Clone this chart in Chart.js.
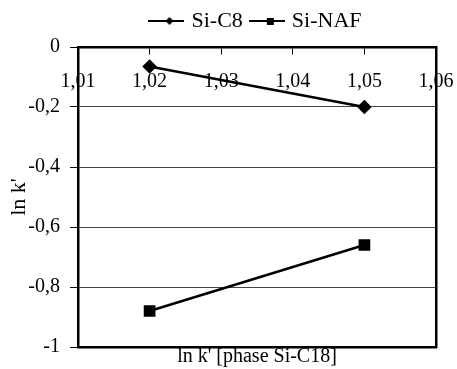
<!DOCTYPE html>
<html>
<head>
<meta charset="utf-8">
<script src="https://cdn.jsdelivr.net/npm/chart.js@4/dist/chart.umd.min.js"></script>
<style>
html,body{margin:0;padding:0;background:#fff;}
#wrap{width:457px;height:369px;}
</style>
</head>
<body>
<div id="wrap"><canvas id="c" width="457" height="369"></canvas></div>
<script>
// ---- data ----
const xValues = [1.02, 1.05];
const siC8 = [-0.065, -0.2];
const siNAF = [-0.88, -0.66];
const seriesNames = ['Si-C8', 'Si-NAF'];
const xTickValues = [1.01, 1.02, 1.03, 1.04, 1.05, 1.06];
const yTickValues = [0, -0.2, -0.4, -0.6, -0.8, -1];
const xTitle = "ln k' [phase Si-C18]";
const yTitle = "ln k'";

const FONT = "'Liberation Serif', 'Times New Roman', serif";

function legendIcon(kind) {
  const c = document.createElement('canvas');
  c.width = 36; c.height = 14;
  const g = c.getContext('2d');
  g.strokeStyle = '#000'; g.fillStyle = '#000'; g.lineWidth = 2;
  g.beginPath(); g.moveTo(0, 7); g.lineTo(36, 7); g.stroke();
  if (kind === 'diamond') {
    g.beginPath(); g.moveTo(21, 3); g.lineTo(25, 7); g.lineTo(21, 11); g.lineTo(17, 7); g.closePath(); g.fill();
  } else {
    g.fillRect(18, 4, 7, 7);
  }
  return c;
}
const icons = [legendIcon('diamond'), legendIcon('square')];

const toPts = ys => xValues.map((x, i) => ({x: x, y: ys[i]}));
const fmt = v => {
  const r = Math.round(v * 100) / 100;
  return String(r).replace('.', ',');
};

new Chart(document.getElementById('c'), {
  type: 'line',
  data: {
    datasets: [
      {label: seriesNames[0], data: toPts(siC8), borderColor: '#000', backgroundColor: '#000',
       borderWidth: 2.5, pointStyle: 'rectRot', pointRadius: 5.5, pointHoverRadius: 5.5, xAxisID: 'x', yAxisID: 'y'},
      {label: seriesNames[1], data: toPts(siNAF), borderColor: '#000', backgroundColor: '#000',
       borderWidth: 2.5, pointStyle: 'rect', pointRadius: 6.5, pointHoverRadius: 6.5, xAxisID: 'x', yAxisID: 'y'}
    ]
  },
  options: {
    responsive: false,
    animation: false,
    layout: {padding: {top: 0, left: 0, right: 0, bottom: 0}},
    plugins: {
      tooltip: {enabled: false},
      legend: {
        position: 'top',
        fullSize: false,
        labels: {
          usePointStyle: true,
          pointStyleWidth: 28,
          padding: 10,
          color: '#000',
          font: {family: FONT, size: 22},
          generateLabels: chart => chart.data.datasets.map((d, i) => ({
            text: d.label, pointStyle: icons[i], fillStyle: '#000', strokeStyle: '#000',
            lineWidth: 0, datasetIndex: i, hidden: false, fontColor: '#000'
          }))
        }
      }
    },
    scales: {
      x: {
        type: 'linear', position: 'bottom', min: 1.01, max: 1.06,
        afterFit: s => { s.height = 22; s.paddingLeft = 0; s.paddingRight = 0; },
        ticks: {display: false},
        grid: {drawOnChartArea: false, drawTicks: false},
        border: {display: true, color: '#000', width: 2.5},
        title: {display: true, text: xTitle, color: '#000', font: {family: FONT, size: 20}, padding: {top: 0, bottom: 0}}
      },
      xTop: {
        type: 'linear', position: 'top', min: 1.01, max: 1.06,
        afterFit: s => { s.height = 5; s.paddingLeft = 0; s.paddingRight = 0; },
        ticks: {display: false},
        grid: {display: false},
        border: {display: false}
      },
      x2: {
        type: 'linear', position: {y: 0}, min: 1.01, max: 1.06,
        afterBuildTicks: s => { s.ticks = xTickValues.map(v => ({value: v})); },
        afterFit: s => { s.paddingLeft = 0; s.paddingRight = 0; },
        ticks: {autoSkip: false, maxRotation: 0, padding: 17, color: '#000', font: {family: FONT, size: 20}, callback: v => fmt(v)},
        grid: {drawOnChartArea: false, drawTicks: true, tickLength: 6, tickColor: '#000', tickWidth: 1},
        border: {display: true, color: '#000', width: 2.5}
      },
      y: {
        type: 'linear', position: 'left', min: -1, max: 0,
        afterFit: s => { s.width = 78; },
        afterBuildTicks: s => { s.ticks = yTickValues.map(v => ({value: v})); },
        ticks: {padding: 10, color: '#000', font: {family: FONT, size: 20}, callback: v => fmt(v)},
        grid: {color: '#444', lineWidth: 1, tickLength: 8, tickColor: '#000'},
        border: {display: true, color: '#000', width: 2.5},
        title: {display: true, text: yTitle, color: '#000', font: {family: FONT, size: 22}, padding: {top: 6, bottom: 0}}
      },
      yr: {
        type: 'linear', position: 'right', min: -1, max: 0,
        afterFit: s => { s.width = 21; },
        ticks: {display: false},
        grid: {drawOnChartArea: false, drawTicks: false},
        border: {display: true, color: '#000', width: 2.5}
      }
    }
  }
});
</script>
</body>
</html>
